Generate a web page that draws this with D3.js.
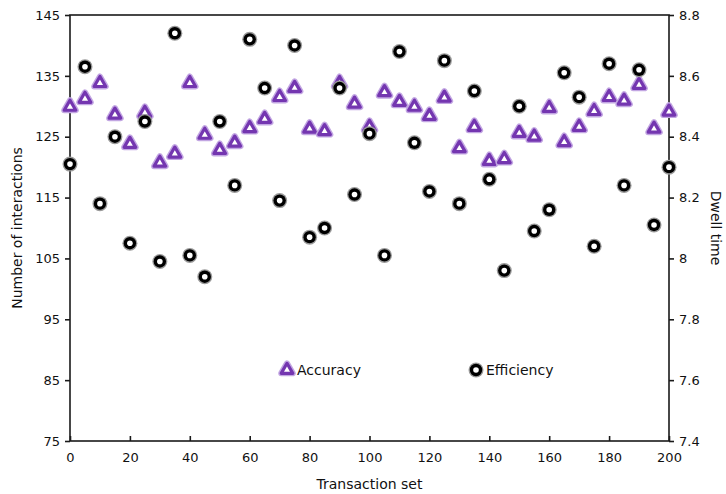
<!DOCTYPE html>
<html>
<head>
<meta charset="utf-8">
<script src="https://cdn.jsdelivr.net/npm/d3@7"></script>
<style>
  body { margin: 0; background: #fff; }
  svg { font-family: "DejaVu Sans", Verdana, sans-serif; }
</style>
</head>
<body>
<svg id="drawing_region"></svg>
<script>
// transaction sets on the x axis
const sets = d3.range(0, 201, 5);

// Accuracy, read against the left axis (number of interactions)
const accuracy = [129.9, 131.2, 133.8, 128.6, 123.8, 128.9, 120.7, 122.2, 133.8, 125.3,
                  122.8, 124.0, 126.4, 127.9, 131.5, 133.0, 126.3, 125.9, 133.8, 130.4,
                  126.6, 132.3, 130.7, 129.9, 128.4, 131.4, 123.1, 126.6, 121.0, 121.3,
                  125.6, 125.0, 129.7, 124.1, 126.6, 129.2, 131.5, 130.9, 133.5, 126.3,
                  129.1];

// Efficiency, read against the right axis (dwell time)
const efficiency = [8.31, 8.63, 8.18, 8.40, 8.05, 8.45, 7.99, 8.74, 8.01, 7.94,
                    8.45, 8.24, 8.72, 8.56, 8.19, 8.70, 8.07, 8.10, 8.56, 8.21,
                    8.41, 8.01, 8.68, 8.38, 8.22, 8.65, 8.18, 8.55, 8.26, 7.96,
                    8.50, 8.09, 8.16, 8.61, 8.53, 8.04, 8.64, 8.24, 8.62, 8.11,
                    8.30];

const xTicks = d3.range(0, 201, 20);
const leftTicks = [75, 85, 95, 105, 115, 125, 135, 145];
const rightTicks = [7.4, 7.6, 7.8, 8, 8.2, 8.4, 8.6, 8.8];

const width = 726, height = 494;
const margin = {top: 15, right: 57, bottom: 53, left: 70};
const iw = width - margin.left - margin.right;
const ih = height - margin.top - margin.bottom;

const svg = d3.select('#drawing_region')
    .attr('width', width)
    .attr('height', height);

const chart = svg.append('g')
    .attr('transform', `translate(${margin.left}, ${margin.top})`);

const xscale = d3.scaleLinear().domain([0, 200]).range([0, iw]);
const yleft = d3.scaleLinear().domain([75, 145]).range([ih, 0]);
const yright = d3.scaleLinear().domain([7.4, 8.8]).range([ih, 0]);

// frame
chart.append('rect')
    .attr('x', 0).attr('y', 0)
    .attr('width', iw).attr('height', ih)
    .attr('fill', 'none')
    .attr('stroke', '#1a1a1a')
    .attr('stroke-width', 1.6);

const xaxis = d3.axisBottom(xscale).tickValues(xTicks).tickSizeInner(-5).tickSizeOuter(0).tickPadding(12);
const laxis = d3.axisLeft(yleft).tickValues(leftTicks).tickSize(5).tickSizeOuter(0).tickPadding(5);
const raxis = d3.axisRight(yright).tickValues(rightTicks).tickSize(5).tickSizeOuter(0).tickPadding(5)
    .tickFormat(d3.format('~g'));

const styleAxis = g => {
    g.select('.domain').remove();
    g.selectAll('line').attr('stroke', '#1a1a1a').attr('stroke-width', 1.6);
    g.selectAll('text').attr('fill', '#111').style('font-size', '13px');
    g.attr('font-family', null);
};

chart.append('g').attr('transform', `translate(0, ${ih})`).call(xaxis).call(styleAxis);
chart.append('g').call(laxis).call(styleAxis);
chart.append('g').attr('transform', `translate(${iw}, 0)`).call(raxis).call(styleAxis);

// axis titles
svg.append('text')
    .attr('x', margin.left + iw / 2).attr('y', 489)
    .attr('text-anchor', 'middle')
    .style('font-size', '14px').attr('fill', '#111')
    .text('Transaction set');

svg.append('text')
    .attr('transform', `translate(22, ${margin.top + ih / 2}) rotate(-90)`)
    .attr('text-anchor', 'middle')
    .style('font-size', '14px').attr('fill', '#111')
    .text('Number of interactions');

svg.append('text')
    .attr('transform', `translate(711, ${margin.top + ih / 2}) rotate(90)`)
    .attr('text-anchor', 'middle')
    .style('font-size', '14px').attr('fill', '#111')
    .text('Dwell time');

// markers
const tri = d3.symbol().type(d3.symbolTriangle).size(58);

function drawTriangle(g) {
    g.append('path').attr('d', tri)
        .attr('fill', 'none')
        .attr('stroke', '#c2a6e2')
        .attr('stroke-width', 6)
        .attr('stroke-linejoin', 'round');
    g.append('path').attr('d', tri)
        .attr('fill', '#fff')
        .attr('stroke', '#7436b0')
        .attr('stroke-width', 3.2)
        .attr('stroke-linejoin', 'round');
}

function drawCircle(g) {
    g.append('circle').attr('r', 7.5).attr('fill', '#9a9a9a');
    g.append('circle').attr('r', 6.2).attr('fill', '#000');
    g.append('circle').attr('r', 2.8).attr('fill', '#fff');
}

const accData = sets.map((s, i) => ({x: s, y: accuracy[i]}));
const effData = sets.map((s, i) => ({x: s, y: efficiency[i]}));

chart.selectAll('g.acc')
    .data(accData)
    .enter()
    .append('g')
    .attr('class', 'acc')
    .attr('transform', d => `translate(${xscale(d.x)}, ${yleft(d.y)})`)
    .each(function() { drawTriangle(d3.select(this)); });

chart.selectAll('g.eff')
    .data(effData)
    .enter()
    .append('g')
    .attr('class', 'eff')
    .attr('transform', d => `translate(${xscale(d.x)}, ${yright(d.y)})`)
    .each(function() { drawCircle(d3.select(this)); });

// legend
const legend = [
    {label: 'Accuracy', x: 287, draw: drawTriangle},
    {label: 'Efficiency', x: 476, draw: drawCircle}
];
legend.forEach(l => {
    const g = svg.append('g').attr('transform', `translate(${l.x}, 370)`);
    l.draw(g);
    g.append('text')
        .attr('x', 10).attr('y', 5)
        .style('font-size', '14px').attr('fill', '#111')
        .text(l.label);
});
</script>
</body>
</html>
